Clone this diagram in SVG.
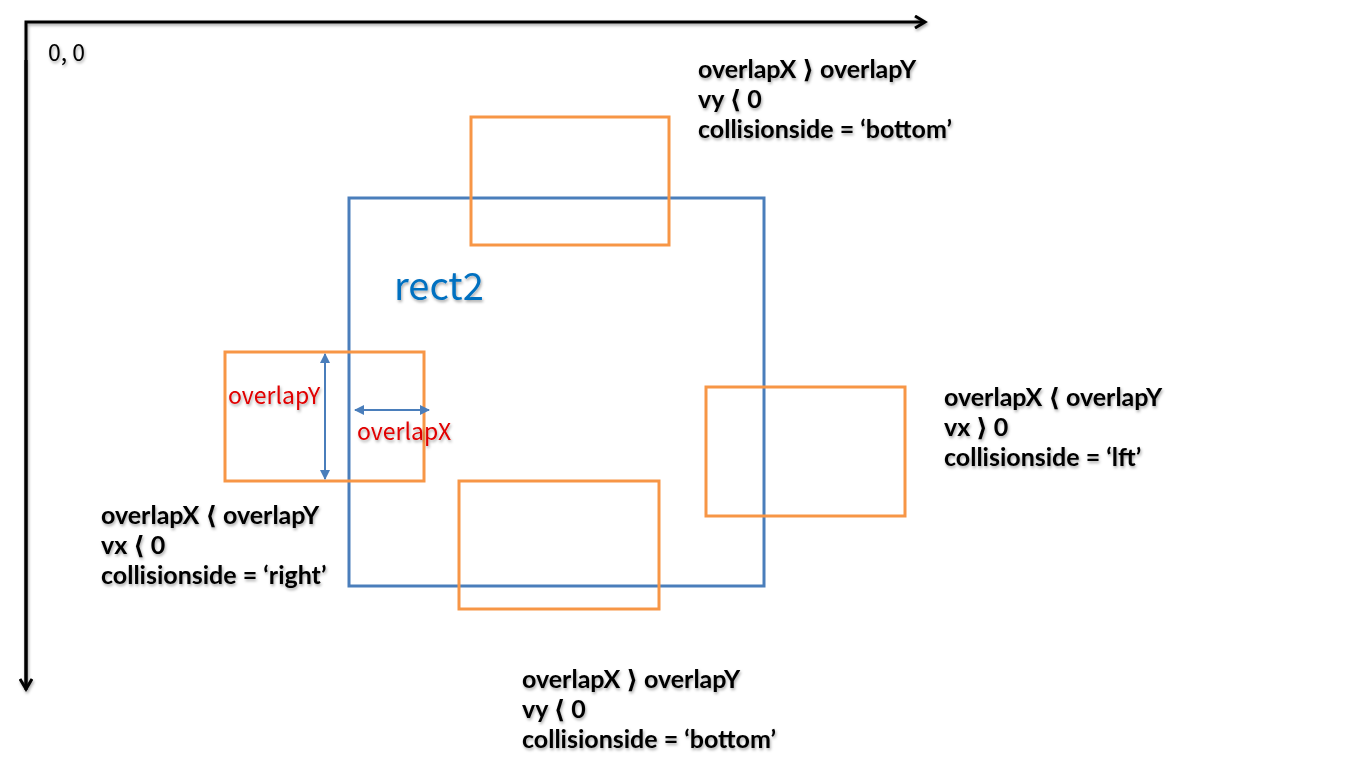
<svg xmlns="http://www.w3.org/2000/svg" width="1346" height="773" viewBox="0 0 1346 773">
<defs>
<filter id="sh" x="-10%" y="-20%" width="130%" height="160%"><feDropShadow dx="1" dy="2" stdDeviation="1.5" flood-color="#000" flood-opacity="0.35"/></filter>
<marker id="axh" markerWidth="14" markerHeight="14" refX="10" refY="7" orient="auto" markerUnits="userSpaceOnUse" viewBox="0 0 14 14"><path d="M1,1 L11,7 L1,13" fill="none" stroke="#000" stroke-width="3"/></marker>
<marker id="bh" markerWidth="10" markerHeight="10" refX="9" refY="5" orient="auto-start-reverse" markerUnits="userSpaceOnUse" viewBox="0 0 10 10"><path d="M0,0 L10,5 L0,10 Z" fill="#4a7ebb"/></marker>
</defs>
<style>
.o{fill:none;stroke:#f79646;stroke-width:3}
.b{fill:none;stroke:#4a7ebb;stroke-width:3}
.t{font-family:Lato,"Noto Sans",sans-serif;font-weight:bold;font-size:25px;fill:#000}
.k{font-family:"DejaVu Sans",sans-serif;font-weight:bold;font-size:25px}
.r{font-family:"Noto Sans CJK KR","Noto Sans",sans-serif;font-size:23px;fill:#e00000}
</style>
<rect width="1346" height="773" fill="#fff"/>
<g id="connectors" filter="url(#sh)">
<path d="M26,690 L26,22 L924,22" fill="none" stroke="#000" stroke-width="3" marker-end="url(#axh)"/>
<path d="M26,60 L26,688" fill="none" stroke="#000" stroke-width="3" marker-end="url(#axh)"/>
</g>
<g id="rect2"><rect class="b" x="349" y="198" width="415" height="388"/>
<text x="394" y="300" font-family="Noto Sans CJK KR,Noto Sans,sans-serif" font-size="38" fill="#0070c0" filter="url(#sh)">rect2</text></g>
<g id="top"><rect class="o" x="471" y="117" width="198" height="128"/></g>
<g id="left"><rect class="o" x="225" y="352" width="199" height="129"/></g>
<g id="right"><rect class="o" x="706" y="387" width="199" height="129"/></g>
<g id="bottom"><rect class="o" x="459" y="481" width="200" height="128"/></g>
<g id="overlap-arrows">
<line x1="325" y1="354" x2="325" y2="479" stroke="#4a7ebb" stroke-width="2" marker-start="url(#bh)" marker-end="url(#bh)"/>
<line x1="355" y1="410" x2="429" y2="410" stroke="#4a7ebb" stroke-width="2" marker-start="url(#bh)" marker-end="url(#bh)"/>
<text class="r" x="228" y="404" filter="url(#sh)">overlapY</text>
<text class="r" x="357" y="440" filter="url(#sh)">overlapX</text>
</g>
<g id="labels" filter="url(#sh)">
<text x="48" y="61" font-family="Noto Sans CJK KR,Noto Sans,sans-serif" font-size="23" fill="#000">0, 0</text>
<text class="t" x="698" y="78">overlapX <tspan class="k">⟩</tspan> overlapY</text>
<text class="t" x="698" y="108">vy <tspan class="k">⟨</tspan> 0</text>
<text class="t" x="698" y="138">collisionside = ‘bottom’</text>
<text class="t" x="944" y="406">overlapX <tspan class="k">⟨</tspan> overlapY</text>
<text class="t" x="944" y="436">vx <tspan class="k">⟩</tspan> 0</text>
<text class="t" x="944" y="466">collisionside = ‘lft’</text>
<text class="t" x="101" y="524">overlapX <tspan class="k">⟨</tspan> overlapY</text>
<text class="t" x="101" y="554">vx <tspan class="k">⟨</tspan> 0</text>
<text class="t" x="101" y="584">collisionside = ‘right’</text>
<text class="t" x="522" y="688">overlapX <tspan class="k">⟩</tspan> overlapY</text>
<text class="t" x="522" y="718">vy <tspan class="k">⟨</tspan> 0</text>
<text class="t" x="522" y="748">collisionside = ‘bottom’</text>
</g>
</svg>
